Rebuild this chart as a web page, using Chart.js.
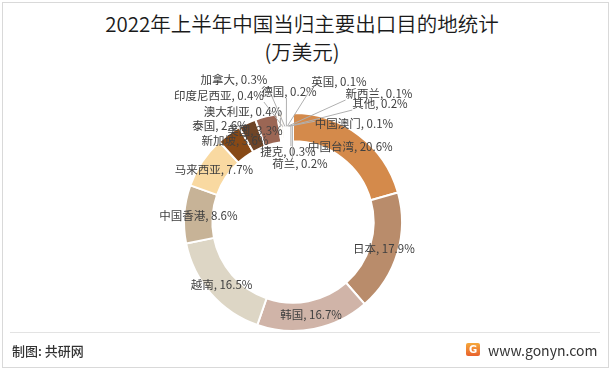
<!DOCTYPE html>
<html>
<head>
<meta charset="utf-8">
<script src="https://cdn.jsdelivr.net/npm/chart.js@4"></script>
<style>
  body { margin: 0; background: #fff; }
  #wrap { position: relative; width: 611px; height: 370px; overflow: hidden; font-family: "Noto Sans CJK SC", "Noto Sans", sans-serif; }
  #frame { position: absolute; left: 2px; top: 2px; width: 605px; height: 364px; border: 1px solid #d9d9d9; }
  .title { position: absolute; left: 0; width: 604px; text-align: center; font-size: 20.5px; color: #1a1a1a; font-weight: 350; }
  #footline { position: absolute; left: 10px; top: 332px; width: 590px; height: 1px; background: #e3e3e3; }
  #src { position: absolute; left: 12px; top: 341px; font-size: 13px; color: #333; font-weight: 500; }
  #site { position: absolute; left: 488px; top: 340px; font-size: 14px; color: #333; }
  #logo { position: absolute; left: 466px; top: 343px; width: 14px; height: 13px; background: linear-gradient(#f6a93b, #e8612c); border-radius: 2px; color: #fff; font: bold 10px "DejaVu Sans"; text-align: center; line-height: 13px; }
  canvas { position: absolute; left: 0; top: 0; }
</style>
</head>
<body>
<div id="wrap">
  <div id="frame"></div>
  <div class="title" style="top:8px">2022年上半年中国当归主要出口目的地统计</div>
  <div class="title" style="top:36px">(万美元)</div>
  <canvas id="chart" width="611" height="370"></canvas>
  <div id="footline"></div>
  <div id="src">制图: 共研网</div>
  <div id="logo">G</div>
  <div id="site">www.gonyn.com</div>
</div>
<script>
const categories = ["中国台湾", "日本", "韩国", "越南", "中国香港", "马来西亚", "新加坡", "泰国", "美国",
  "澳大利亚", "印度尼西亚", "加拿大", "德国", "英国", "新西兰", "其他", "中国澳门", "捷克", "荷兰"];
const values = [20.6, 17.9, 16.7, 16.5, 8.6, 7.7, 3.6, 2.6, 3.3, 0.4, 0.4, 0.3, 0.2, 0.1, 0.1, 0.2, 0.1, 0.3, 0.2];

const colors = ["#d48a4b", "#b98c6b", "#d0b4a8", "#ddd6c5", "#c7b397", "#f9d9a1", "#874916", "#6f4527", "#9b6654",
  "#f3e3c6", "#efe2cf", "#f6e6cc", "#f4ead9", "#f2e6d6", "#f7ecd9", "#f1e4d2", "#f8eed9", "#f3e6d2", "#f6ebd8"];

// label centres for the slices too thin to hold their own label
const labelAt = {
  "新加坡": [235, 141, false], "泰国": [220, 126, false], "美国": [255, 131, false],
  "澳大利亚": [243, 112, true], "印度尼西亚": [219, 96, true], "加拿大": [234, 80, true],
  "德国": [289, 92, true], "英国": [339, 82, true], "新西兰": [379, 94, true],
  "其他": [380, 104, true], "中国澳门": [354, 124, true], "捷克": [288, 152, true], "荷兰": [300, 164, true]
};

const labelPlugin = {
  id: "sliceLabels",
  afterDatasetsDraw(chart) {
    const ctx = chart.ctx;
    const arcs = chart.getDatasetMeta(0).data;
    ctx.save();
    ctx.font = "11.5px 'Noto Sans CJK SC', sans-serif";
    ctx.textBaseline = "middle";
    ctx.textAlign = "center";
    arcs.forEach((arc, i) => {
      const txt = categories[i] + ", " + values[i] + "%";
      const p = arc.getProps(["x", "y", "startAngle", "endAngle", "innerRadius", "outerRadius"], true);
      const mid = (p.startAngle + p.endAngle) / 2;
      const r = (p.innerRadius + p.outerRadius) / 2;
      const cx = p.x + Math.cos(mid) * r;
      const cy = p.y + Math.sin(mid) * r;
      const pos = labelAt[categories[i]];
      if (!pos) {
        ctx.fillStyle = "#404040";
        ctx.fillText(txt, cx, cy);
        return;
      }
      const [lx, ly, leader] = pos;
      if (leader) {
        const w = ctx.measureText(txt).width;
        const tx = Math.min(Math.max(cx, lx - w / 2), lx + w / 2);
        const ty = Math.min(Math.max(cy - 6, ly - 6), ly + 6);
        ctx.strokeStyle = "#b0b0b0";
        ctx.lineWidth = 1;
        ctx.beginPath();
        ctx.moveTo(tx, ty);
        ctx.lineTo(p.x + Math.cos(mid) * p.outerRadius * 0.88, p.y + Math.sin(mid) * p.outerRadius * 0.88);
        ctx.stroke();
      }
      ctx.fillStyle = "#404040";
      ctx.fillText(txt, lx, ly);
    });
    ctx.restore();
  }
};

new Chart(document.getElementById("chart"), {
  type: "doughnut",
  data: {
    labels: categories,
    datasets: [{
      data: values,
      backgroundColor: colors,
      borderColor: "#ffffff",
      borderWidth: 2
    }]
  },
  options: {
    responsive: false,
    animation: false,
    cutout: "74%",
    layout: { padding: { left: 183, right: 208, top: 112, bottom: 38 } },
    plugins: {
      legend: { display: false },
      tooltip: { enabled: false }
    }
  },
  plugins: [labelPlugin]
});
</script>
</body>
</html>
